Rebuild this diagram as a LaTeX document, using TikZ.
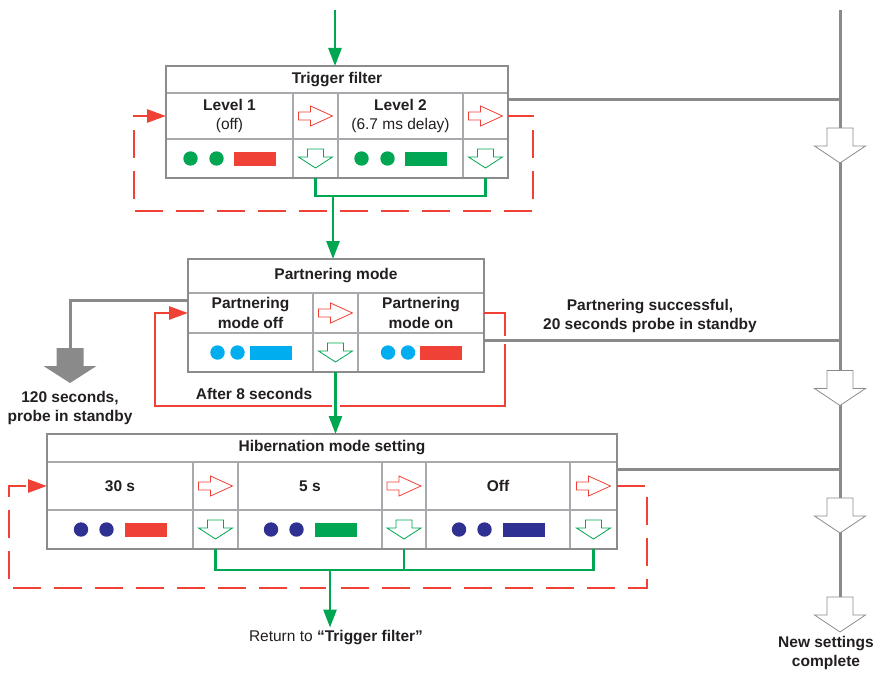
\documentclass[tikz,border=0pt]{standalone}
\usepackage{fontspec}
\setmainfont{Liberation Sans}
\usetikzlibrary{arrows.meta,positioning,calc}
\definecolor{framegray}{HTML}{8C8C8C}
\definecolor{cellgray}{HTML}{A7A9AC}
\definecolor{linkgray}{HTML}{8A8A8A}
\definecolor{ledgreen}{HTML}{00A651}
\definecolor{ledred}{HTML}{EF4136}
\definecolor{ledcyan}{HTML}{00AEEF}
\definecolor{ledblue}{HTML}{2E3192}
\definecolor{inkgray}{HTML}{231F20}

% status lamps: cell, dot colour, bar colour, dot offsets, bar offset
\newcommand{\lamps}[6]{%
  \fill[#2] ($(#1.center)+(#4,0)$) circle (7.2pt);
  \fill[#2] ($(#1.center)+(#5,0)$) circle (7.2pt);
  \fill[#3] ($(#1.center)+(#6,-7)$) rectangle ++(42,14);}
\newcommand{\nextarrow}[1]{%
  \draw[ledred, line width=0.8pt, fill=white, shift={(#1.center)}]
    (-17,-4) -- (-5,-4) -- (-5,-10) -- (17,0) -- (-5,10) -- (-5,4) -- (-17,4) -- cycle;}
\newcommand{\confirmarrow}[1]{%
  \draw[ledgreen, line width=0.8pt, fill=white, shift={(#1.center)}]
    (-8,-9.5) -- (8,-9.5) -- (8,-1.5) -- (17,-1.5) -- (0,9.5) -- (-17,-1.5) -- (-8,-1.5) -- cycle;}
\newcommand{\busarrow}[1]{%
  \draw[linkgray, line width=0.8pt, fill=white, shift={(#1)}]
    (-13,-17.5) -- (13,-17.5) -- (13,0.5) -- (25.5,0.5) -- (0,17.5) -- (-25.5,0.5) -- (-13,0.5) -- cycle;}

\begin{document}
\begin{tikzpicture}[
  x=1pt, y=-1pt,
  font=\fontsize{15.5}{19.5}\selectfont\bfseries, text=inkgray,
  cell/.style={draw=cellgray, line width=1.3pt, inner sep=0pt, outer sep=0pt, align=center},
  frame/.style={draw=framegray, line width=2.8pt},
  greenline/.style={draw=ledgreen, line width=2.8pt},
  greenarrow/.style={greenline, -{Triangle[length=18pt,width=13pt]}},
  redloop/.style={draw=ledred, line width=2.8pt, -{Triangle[length=19pt,width=13pt]}},
  reddash/.style={redloop, dash pattern=on 28pt off 13pt},
  grayline/.style={draw=linkgray, line width=3pt},
  bridge/.style={draw=white, line width=8pt, shorten <=5pt, shorten >=5pt},
  note/.style={align=center, inner sep=1pt}
]
\useasboundingbox (0,0) rectangle (877,674);

% trigger filter
\node[cell, minimum width=342, minimum height=27, anchor=north west] (tfHead) at (166,66) {Trigger filter};
\node[cell, minimum width=127, minimum height=46, below right=0pt of tfHead.south west] (tfL1) {Level 1\\\mdseries(off)};
\node[cell, minimum width=45, minimum height=46, right=0pt of tfL1] (tfA1) {};
\node[cell, minimum width=125, minimum height=46, right=0pt of tfA1] (tfL2) {Level 2\\\mdseries(6.7 ms delay)};
\node[cell, minimum width=45, minimum height=46, right=0pt of tfL2] (tfA2) {};
\node[cell, minimum width=127, minimum height=39, below=0pt of tfL1] (tfS1) {};
\node[cell, minimum width=45, minimum height=39, below=0pt of tfA1] (tfD1) {};
\node[cell, minimum width=125, minimum height=39, below=0pt of tfL2] (tfS2) {};
\node[cell, minimum width=45, minimum height=39, below=0pt of tfA2] (tfD2) {};
\draw[frame] (tfHead.north west) rectangle (tfD2.south east);

% partnering mode
\node[cell, minimum width=296, minimum height=34, anchor=north west] (pmHead) at (188,259) {Partnering mode};
\node[cell, minimum width=125, minimum height=40, below right=0pt of pmHead.south west] (pmL) {Partnering\\mode off};
\node[cell, minimum width=45, minimum height=40, right=0pt of pmL] (pmA) {};
\node[cell, minimum width=126, minimum height=40, right=0pt of pmA] (pmR) {Partnering\\mode on};
\node[cell, minimum width=125, minimum height=39, below=0pt of pmL] (pmS1) {};
\node[cell, minimum width=45, minimum height=39, below=0pt of pmA] (pmD) {};
\node[cell, minimum width=126, minimum height=39, below=0pt of pmR] (pmS2) {};
\draw[frame] (pmHead.north west) rectangle (pmS2.south east);

% hibernation mode
\node[cell, minimum width=570, minimum height=28, anchor=north west] (hmHead) at (47,434) {Hibernation mode setting};
\node[cell, minimum width=146, minimum height=48, below right=0pt of hmHead.south west] (hmL1) {30 s};
\node[cell, minimum width=45, minimum height=48, right=0pt of hmL1] (hmA1) {};
\node[cell, minimum width=144, minimum height=48, right=0pt of hmA1] (hmL2) {5 s};
\node[cell, minimum width=44, minimum height=48, right=0pt of hmL2] (hmA2) {};
\node[cell, minimum width=144, minimum height=48, right=0pt of hmA2] (hmL3) {Off};
\node[cell, minimum width=47, minimum height=48, right=0pt of hmL3] (hmA3) {};
\node[cell, minimum width=146, minimum height=39, below=0pt of hmL1] (hmS1) {};
\node[cell, minimum width=45, minimum height=39, below=0pt of hmA1] (hmD1) {};
\node[cell, minimum width=144, minimum height=39, below=0pt of hmL2] (hmS2) {};
\node[cell, minimum width=44, minimum height=39, below=0pt of hmA2] (hmD2) {};
\node[cell, minimum width=144, minimum height=39, below=0pt of hmL3] (hmS3) {};
\node[cell, minimum width=47, minimum height=39, below=0pt of hmA3] (hmD3) {};
\draw[frame] (hmHead.north west) rectangle (hmD3.south east);

% cell contents
\nextarrow{tfA1} \nextarrow{tfA2} \confirmarrow{tfD1} \confirmarrow{tfD2}
\nextarrow{pmA} \confirmarrow{pmD}
\nextarrow{hmA1} \nextarrow{hmA2} \nextarrow{hmA3}
\confirmarrow{hmD1} \confirmarrow{hmD2} \confirmarrow{hmD3}
\lamps{tfS1}{ledgreen}{ledred}{-39}{-13}{4}
\lamps{tfS2}{ledgreen}{ledgreen}{-39}{-13}{4}
\lamps{pmS1}{ledcyan}{ledcyan}{-33}{-13}{-1}
\lamps{pmS2}{ledcyan}{ledred}{-33}{-13}{-1}
\lamps{hmS1}{ledblue}{ledred}{-39}{-13.5}{5}
\lamps{hmS2}{ledblue}{ledgreen}{-39}{-13.5}{5}
\lamps{hmS3}{ledblue}{ledblue}{-39}{-13.5}{5}

% labels
\node[note] (stbyText) at (70,408) {120 seconds,\\probe in standby};
\node[note] (afterText) at (254,394) {After 8 seconds};
\node[note] (succText) at (650,316) {Partnering successful,\\20 seconds probe in standby};
\node[note] (doneText) at (826,653) {New settings\\complete};
\node[note, font=\fontsize{15.5}{19.5}\selectfont] (retText) at (336,638) {Return to \textbf{“Trigger filter”}};

% points on the lines
\coordinate (tfEntry) at (335,10);
\coordinate (tfMerge) at (333,196);
\coordinate (hmMerge) at (330,570);
\coordinate (tfLoopSE) at (533,211);
\coordinate (tfLoopNW) at (134,116);
\coordinate (pmLoopSE) at (505,406);
\coordinate (pmLoopNW) at (155,313);
\coordinate (hmLoopSE) at (647,588);
\coordinate (hmLoopNW) at (9,486);
\coordinate (stbyArrow) at (70,348);
\coordinate (busTop) at (840,10);
\coordinate (busTf) at (840,100);
\coordinate (busPm) at (840,340);
\coordinate (busHm) at (840,469);
\coordinate (busEnd) at (840,600);

% return loops
\draw[reddash, dash phase=2pt] (tfA2.east) -| (tfLoopSE) -| (tfLoopNW) -- (tfL1.west);
\draw[redloop] (pmR.east) -| (pmLoopSE) -| (pmLoopNW) -- (pmL.west);
\draw[reddash] (hmA3.east) -| (hmLoopSE) -| (hmLoopNW) -- (hmL1.west);

% standby exit
\draw[grayline] ($(pmL.north west)+(0,7)$) -| (stbyArrow);
\fill[linkgray, shift={(stbyArrow)}]
  (-13.5,0) -- (13.5,0) -- (13.5,18) -- (26.5,18) -- (0,35) -- (-26.5,18) -- (-13.5,18) -- cycle;

% links to the settings line
\draw[grayline] (busTf -| tfA2.east) -- (busTf);
\draw[bridge] (busPm -| pmR.east) -- (busPm);
\draw[grayline] (busPm -| pmR.east) -- (busPm);
\draw[grayline] (busHm -| hmA3.east) -- (busHm);
\draw[grayline] (busTop) -- (busEnd);
\busarrow{840,145.5} \busarrow{840,388} \busarrow{840,515.5} \busarrow{840,614.5}

% confirm paths
\draw[bridge] (tfMerge) -- (tfMerge |- pmHead.north);
\draw[bridge] (pmD.south) -- (pmD.south |- hmHead.north);
\draw[bridge] (hmMerge) -- (hmMerge |- retText.north);
\draw[greenarrow] (tfEntry) -- (tfEntry |- tfHead.north);
\draw[greenline] (tfD1.south) |- (tfMerge) -| (tfD2.south);
\draw[greenarrow] (tfMerge) -- (tfMerge |- pmHead.north);
\draw[greenarrow] (pmD.south) -- (pmD.south |- hmHead.north);
\draw[greenline] (hmD1.south) |- (hmMerge) -| (hmD3.south);
\draw[greenline] (hmD2.south) -- (hmD2.south |- hmMerge);
\draw[greenarrow, shorten >=2pt] (hmMerge) -- (hmMerge |- retText.north);
\end{tikzpicture}
\end{document}
